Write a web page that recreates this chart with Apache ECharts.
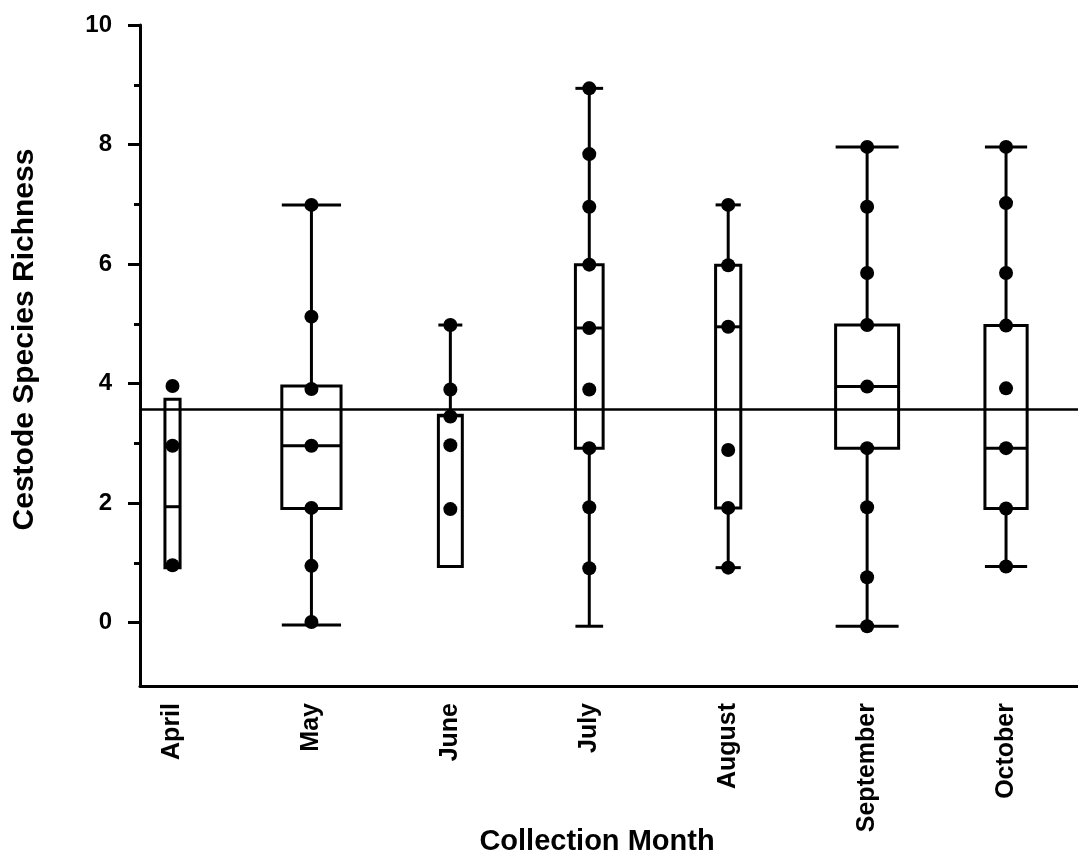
<!DOCTYPE html>
<html>
<head>
<meta charset="utf-8">
<script src="https://cdn.jsdelivr.net/npm/echarts@6/dist/echarts.min.js"></script>
<style>
  html, body { margin: 0; padding: 0; background: #ffffff; }
  #chart { width: 1078px; height: 860px; }
</style>
</head>
<body>
<div id="chart"></div>
<script>
// ---------------- data ----------------
const categories = ['April', 'May', 'June', 'July', 'August', 'September', 'October'];

// box plot statistics per month
const whiskerLow  = [0.92, -0.04, 0.94, -0.06, 0.92, -0.06, 0.94];
const quartile1   = [0.92,  1.91, 0.94,  2.92, 1.92,  2.92, 1.91];
const medians     = [1.94,  2.96, 3.46,  4.93, 4.95,  3.95, 2.92];
const quartile3   = [3.74,  3.96, 3.47,  5.99, 5.98,  4.98, 4.97];
const whiskerHigh = [3.74,  6.99, 4.98,  8.94, 6.99,  7.96, 7.96];
// variable box width (relative sample size)
const relSampleSize = [0.24, 0.94, 0.38, 0.44, 0.40, 1.00, 0.67];

// individual observations
const obsApril     = [3.96, 2.96, 0.96];
const obsMay       = [6.99, 5.12, 3.91, 2.96, 1.92, 0.95, 0.01];
const obsJune      = [4.98, 3.90, 3.45, 2.97, 1.90];
const obsJuly      = [8.94, 7.84, 6.96, 5.99, 4.93, 3.90, 2.92, 1.93, 0.91];
const obsAugust    = [6.99, 5.98, 4.95, 2.89, 1.92, 0.92];
const obsSeptember = [7.96, 6.96, 5.85, 4.98, 3.95, 2.92, 1.93, 0.76, -0.06];
const obsOctober   = [7.96, 7.02, 5.85, 4.97, 3.92, 2.92, 1.91, 0.94];

// overall reference (mean richness) line
const overallMean = 3.57;

// axis ticks
const yMajorTicks = [0, 2, 4, 6, 8, 10];
const yMinorTicks = [1, 3, 5, 7, 9];

// ---------------- build ----------------
const observations = [obsApril, obsMay, obsJune, obsJuly, obsAugust, obsSeptember, obsOctober];
const boxData = categories.map((c, i) => [i, whiskerLow[i], quartile1[i], medians[i], quartile3[i], whiskerHigh[i], relSampleSize[i]]);
const pointData = [];
observations.forEach((arr, i) => arr.forEach(v => pointData.push([i, v])));

const MAX_BOX_PX = 63;
const LW = 3;
const FONT = '"Liberation Sans", Arial, Helvetica, sans-serif';

function renderBox(params, api) {
  const x = api.value(0);
  const lo = api.value(1), q1 = api.value(2), med = api.value(3), q3 = api.value(4), hi = api.value(5);
  const half = api.value(6) * MAX_BOX_PX / 2;
  const pLo = api.coord([x, lo]), pQ1 = api.coord([x, q1]), pMed = api.coord([x, med]);
  const pQ3 = api.coord([x, q3]), pHi = api.coord([x, hi]);
  const cx = pQ1[0];
  const st = { stroke: '#000', lineWidth: LW, fill: null };
  const children = [];
  if (hi > q3) {
    children.push({ type: 'line', shape: { x1: cx, y1: pQ3[1], x2: cx, y2: pHi[1] }, style: st });
    children.push({ type: 'line', shape: { x1: cx - half, y1: pHi[1], x2: cx + half, y2: pHi[1] }, style: st });
  }
  if (lo < q1) {
    children.push({ type: 'line', shape: { x1: cx, y1: pQ1[1], x2: cx, y2: pLo[1] }, style: st });
    children.push({ type: 'line', shape: { x1: cx - half, y1: pLo[1], x2: cx + half, y2: pLo[1] }, style: st });
  }
  children.push({ type: 'rect', shape: { x: cx - half, y: pQ3[1], width: half * 2, height: pQ1[1] - pQ3[1] }, style: { stroke: '#000', lineWidth: LW, fill: 'rgba(0,0,0,0)' } });
  children.push({ type: 'line', shape: { x1: cx - half, y1: pMed[1], x2: cx + half, y2: pMed[1] }, style: st });
  return { type: 'group', children: children };
}

const chart = echarts.init(document.getElementById('chart'), null, { renderer: 'canvas' });

const yBase = {
  type: 'value',
  min: -1.06,
  max: 10,
  position: 'left',
  offset: 0,
  splitLine: { show: false }
};

chart.setOption({
  animation: false,
  backgroundColor: '#ffffff',
  grid: { left: 140, right: 0, top: 25, bottom: 174, containLabel: false, outerBoundsMode: 'none' },
  xAxis: {
    type: 'value',
    min: -0.234,
    max: 6.518,
    splitLine: { show: false },
    axisLine: { show: true, onZero: false, lineStyle: { color: '#000', width: LW } },
    axisTick: { show: false },
    axisLabel: {
      customValues: categories.map((c, i) => i),
      formatter: v => categories[Math.round(v)],
      rotate: 90,
      margin: 17,
      color: '#000',
      fontFamily: FONT,
      fontWeight: 'bold',
      fontSize: 25
    },
    name: 'Collection Month',
    nameLocation: 'middle',
    nameGap: 141,
    nameMoveOverlap: false,
    nameTextStyle: { color: '#000', fontFamily: FONT, fontWeight: 'bold', fontSize: 29, padding: [0, 24, 0, 0] }
  },
  yAxis: [
    Object.assign({}, yBase, {
      axisLine: { show: true, onZero: false, lineStyle: { color: '#000', width: LW } },
      axisTick: { show: true, customValues: yMajorTicks, length: 12, lineStyle: { color: '#000', width: LW } },
      axisLabel: {
        customValues: yMajorTicks,
        margin: 28,
        color: '#000',
        fontFamily: FONT,
        fontWeight: 'bold',
        fontSize: 24
      },
      name: 'Cestode Species Richness',
      nameLocation: 'middle',
      nameGap: 100,
      nameMoveOverlap: false,
      nameTextStyle: { color: '#000', fontFamily: FONT, fontWeight: 'bold', fontSize: 30, padding: [0, 0, 0, 32] }
    }),
    Object.assign({}, yBase, {
      axisLine: { show: false, onZero: false },
      axisTick: { show: true, customValues: yMinorTicks, length: 6, lineStyle: { color: '#000', width: LW } },
      axisLabel: { show: false }
    })
  ],
  series: [
    {
      type: 'custom',
      renderItem: renderBox,
      data: boxData,
      encode: { x: 0, y: [1, 2, 3, 4, 5] },
      z: 2,
      markLine: {
        silent: true,
        symbol: ['none', 'none'],
        label: { show: false },
        lineStyle: { color: '#000', width: 2.5, type: 'solid', opacity: 1 },
        data: [{ yAxis: overallMean }]
      }
    },
    {
      type: 'scatter',
      data: pointData,
      symbol: 'circle',
      symbolSize: 14,
      itemStyle: { color: '#000', opacity: 1 },
      z: 3
    }
  ]
});
</script>
</body>
</html>
